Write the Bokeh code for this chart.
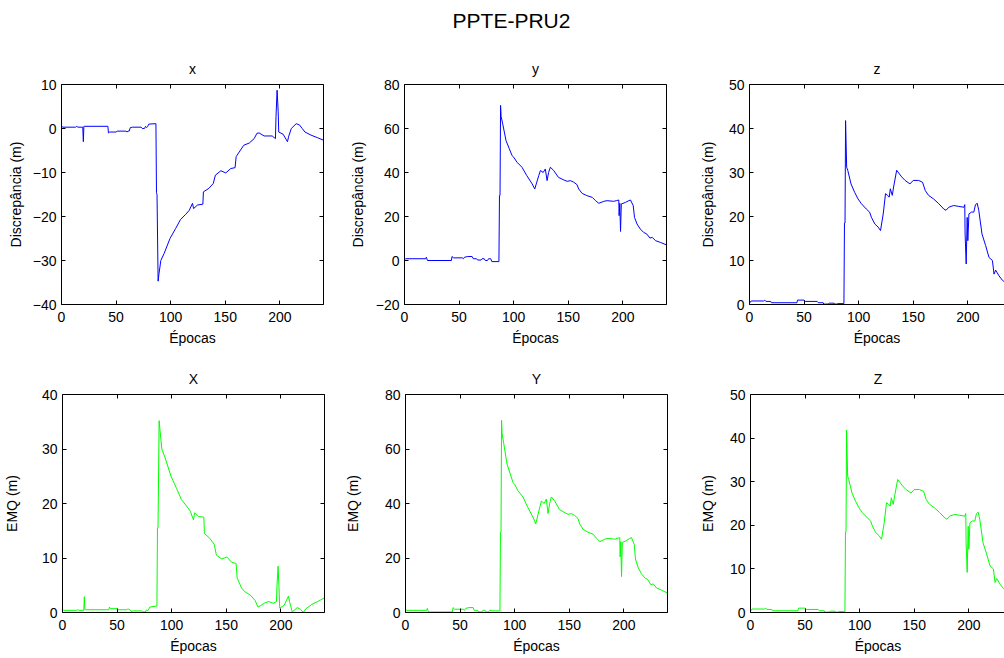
from bokeh.plotting import figure
from bokeh.layouts import column, row
from bokeh.models import LinearAxis, FixedTicker, Range1d, CustomJSTickFormatter
from bokeh.embed import file_html
from bokeh.resources import INLINE

# ---------------- data ----------------
main_title = "PPTE-PRU2"
x_ticks = [0, 50, 100, 150, 200]

ep_x = [0, 1, 13, 14, 15, 19.5, 20, 20.5, 21, 42.5, 43, 44, 50, 51, 59, 60, 61, 62, 63, 65,
        73, 74, 76, 77, 78, 79, 80, 86.5, 87, 87.5, 88.5, 89.3, 91, 94, 99.4, 104.6, 109, 113.8,
        117, 120, 121, 124.5, 129.5, 130, 135, 139, 141, 146, 150.5, 155, 159, 160, 164, 167,
        172, 176.5, 179, 181, 185.6, 189, 193, 196, 196.5, 197.5, 198.5, 199, 203, 207, 208,
        210.5, 215, 218, 220.5, 223, 228.5, 234.6, 240]
val_x = [0.6, 0.3, 0.3, 0.5, 0.3, 0.3, -3.0, 0.5, 0.5, 0.5, -1.0, -0.8, -0.8, -0.6, -0.6, -0.8,
         -0.6, -0.6, 0.2, 0.3, 0.3, 0.0, 0.0, 0.5, 0.2, 0.5, 1.0, 1.1, -14.6, -15, -34.7, -33,
         -30, -28.4, -25, -22.7, -20.7, -19.5, -18.6, -17, -18.2, -17.4, -17.2, -14.4, -13.6,
         -12.5, -10.6, -9.6, -10.1, -9.1, -8.9, -6.4, -4.9, -3.8, -3.3, -2.3, -1.1, -1.0, -1.7,
         -1.7, -1.7, -2.3, 2.7, 8.7, 3.8, -0.8, -1.3, -3.0, -1.9, 0.0, 1.1, 0.8, 0.0, -0.8,
         -1.5, -2.1, -2.65]
emq_x = [0.6, 0.4, 0.4, 0.5, 0.4, 0.4, 2.9, 0.5, 0.5, 0.5, 1.0, 0.7, 0.7, 0.5, 0.5, 0.7,
         0.5, 0.5, 0.2, 0.3, 0.3, 0.1, 0.1, 0.5, 0.3, 0.6, 1.0, 1.2, 15.5, 15.5, 35.2, 33.5,
         30, 28.4, 25, 22.7, 20.7, 19.5, 18.6, 17, 18.3, 17.6, 17.5, 14.5, 13.6, 12.5, 10.5,
         9.8, 10.2, 9.2, 9.0, 6.3, 4.5, 3.8, 3.2, 2.2, 1.0, 1.2, 1.8, 2.0, 1.7, 2.0, 5.0, 8.5,
         3.5, 0.8, 1.3, 3.0, 2.0, 0.1, 0.9, 0.6, 0.0, 0.7, 1.5, 2.1, 2.7]

ep_y = [0, 1, 19.5, 20, 20.5, 21, 43, 43.5, 45, 53, 54, 55, 58, 62, 63, 66, 67, 70, 71, 73,
        74, 76, 77, 79, 80, 86.5, 87, 87.5, 88, 88.5, 90, 93, 96, 98.5, 100, 103, 107.6, 112,
        117, 119.3, 123, 124.5, 127, 129, 130.6, 132, 133.6, 136.7, 141, 146, 149, 152, 155,
        158, 159.6, 162.7, 167, 172, 175, 178, 182.6, 185.6, 191.7, 194, 196.3, 196.6, 197.2,
        197.9, 198.6, 202.4, 205.5, 207, 209.5, 210.7, 213, 216, 219, 222, 224.8, 227, 230,
        234.6, 240]
val_y = [0.3, 0.8, 0.8, 1.5, 0.8, 0.0, 0.0, 1.8, 1.2, 1.2, 0.8, 1.5, 1.8, 1.8, 0.8, 0.8, 0.2,
         0.2, 0.8, 0.8, 0.0, 0.0, 0.8, 0.8, -0.5, -0.5, 29.5, 29.5, 70.5, 65.5, 62, 54.5, 50.8,
         47.7, 47, 44.7, 42.4, 38.6, 34.8, 32.5, 38.6, 40.9, 40, 41.6, 36.3, 40, 42.4, 40.9,
         37.8, 36.6, 36, 36.3, 35.6, 34.5, 32.5, 30.5, 29.5, 28.7, 27.2, 26, 26.9, 27.2, 26.9,
         27.2, 27.5, 20.4, 26.0, 13.2, 25.7, 26.4, 27.2, 27.5, 25, 19.6, 16.6, 14.3, 12.8, 12,
         10.2, 10.5, 9, 8.2, 7.1]
emq_y = [0.5, 0.8, 0.8, 1.5, 0.8, 0.2, 0.2, 1.8, 1.2, 1.2, 0.8, 1.5, 1.8, 1.8, 0.8, 0.8, 0.2,
         0.2, 0.8, 0.8, 0.2, 0.2, 0.8, 0.8, 0.6, 0.6, 29.5, 29.5, 70.5, 65.5, 62, 54.5, 50.8,
         47.7, 47, 44.7, 42.4, 38.6, 34.8, 32.5, 38.6, 40.9, 40, 41.6, 36.3, 40, 42.4, 40.9,
         37.8, 36.6, 36, 36.3, 35.6, 34.5, 32.5, 30.5, 29.5, 28.7, 27.2, 26, 26.9, 27.2, 26.9,
         27.2, 27.5, 20.4, 26.0, 13.2, 25.7, 26.4, 27.2, 27.5, 25, 19.6, 16.6, 14.3, 12.8, 12,
         10.2, 10.5, 9, 8.2, 7.1]

ep_z = [0, 1.5, 13, 14, 15, 19.5, 20, 43.5, 44, 50, 51, 62, 63, 67.5, 68, 72, 73, 77.5, 78, 80,
        81, 86.5, 87, 87.5, 88, 88.5, 89, 90, 93, 96.3, 99.4, 102.5, 107, 110, 111.7, 114.8,
        117.8, 120, 122.5, 124.6, 126.5, 128, 129, 130.8, 132, 134.8, 139.4, 142.5, 147, 150,
        154.8, 158.5, 161, 164, 168.6, 173, 178, 180, 182.5, 187, 191.7, 196.3, 197.2, 197.5,
        198.5, 199.4, 200, 201, 203.4, 205.5, 207, 208.6, 210, 213, 216.3, 219.4, 222.5, 224,
        225.5, 228.6, 231.7, 235.4, 240]
val_z = [0.3, 0.8, 0.8, 1.0, 0.7, 0.7, 0.4, 0.4, 1.0, 1.0, 0.7, 0.7, 0.4, 0.4, 0.1, 0.1, 0.3,
         0.3, 0.1, 0.1, 0.2, 0.2, 18.5, 18.5, 41.8, 36.5, 31.2, 30.5, 27.4, 25.5, 24, 22.9, 21.7,
         21, 19.8, 18.3, 17.6, 16.8, 20.6, 25.2, 24.8, 24.4, 26.3, 24.8, 26.7, 30.5, 29, 28.2,
         27.4, 28.2, 28.2, 27.8, 25.9, 24.8, 24, 23, 21.7, 21.4, 22.1, 22.5, 22.3, 22.1, 22.7,
         16, 9.2, 19.8, 14.5, 20.6, 21, 21, 22.7, 23, 21.4, 16, 13.4, 10.7, 10, 6.9, 7.8, 6.5,
         5.5, 4.8, 4.0]
emq_z = [0.3, 0.8, 0.8, 1.0, 0.7, 0.7, 0.4, 0.4, 1.0, 1.0, 0.7, 0.7, 0.4, 0.4, 0.1, 0.1, 0.3,
         0.3, 0.1, 0.1, 0.2, 0.2, 18.5, 18.5, 41.8, 36.5, 31.2, 30.5, 27.4, 25.5, 24, 22.9, 21.7,
         21, 19.8, 18.3, 17.6, 16.8, 20.6, 25.2, 24.8, 24.4, 26.3, 24.8, 26.7, 30.5, 29, 28.2,
         27.4, 28.2, 28.2, 27.8, 25.9, 24.8, 24, 23, 21.7, 21.4, 22.1, 22.5, 22.3, 22.1, 22.7,
         16, 9.2, 19.8, 14.5, 20.6, 21, 21, 22.7, 23, 21.4, 16, 13.4, 10.7, 10, 6.9, 7.8, 6.5,
         5.5, 4.8, 4.0]

top_titles = ["x", "y", "z"]
bottom_titles = ["X", "Y", "Z"]
top_ylabel = "Discrepância (m)"
bottom_ylabel = "EMQ (m)"
xlabel = "Épocas"
top_yranges = [(-40, 10), (-20, 80), (0, 50)]
bottom_yranges = [(0, 40), (0, 80), (0, 50)]
top_yticks = [[-40, -30, -20, -10, 0, 10], [-20, 0, 20, 40, 60, 80], [0, 10, 20, 30, 40, 50]]
bottom_yticks = [[0, 10, 20, 30, 40], [0, 20, 40, 60, 80], [0, 10, 20, 30, 40, 50]]

# ---------------- styling ----------------
FONT = "Liberation Sans"
BLUE = "#0000ff"
GREEN = "#00ff00"
col_border_left = [61, 64, 69]
col_border_right = [17, 14, 0]
col_frame_w = [262, 262, 255]
col_x_end = [240, 240, 255 * 240 / 262]
top_label_standoff = [6, 7, 10]
bottom_label_standoff = [19, 21, 11]


def style_axis(ax, show_labels=True):
    ax.axis_line_color = "black"
    ax.major_tick_line_color = "black"
    ax.major_tick_in = 4
    ax.major_tick_out = 0
    ax.minor_tick_line_color = None
    ax.major_label_text_font = FONT
    ax.major_label_text_font_size = "14px"
    ax.major_label_text_color = "black"
    ax.axis_label_text_font = FONT
    ax.axis_label_text_font_size = "14px"
    ax.axis_label_text_font_style = "normal"
    ax.axis_label_text_color = "black"
    if not show_labels:
        ax.formatter = CustomJSTickFormatter(code="return ''")
        ax.major_label_text_font_size = "1px"
        ax.major_label_standoff = 0


def panel(col, title, ep, vals, color, ylabel, yr, yticks, b_top, f_h, ylab_standoff):
    p = figure(frame_width=col_frame_w[col], frame_height=f_h,
               min_border_left=col_border_left[col], min_border_right=col_border_right[col],
               min_border_top=b_top, min_border_bottom=46,
               x_range=Range1d(0, col_x_end[col]), y_range=Range1d(*yr),
               output_backend="svg", toolbar_location=None)
    p.outline_line_color = None
    p.grid.visible = False
    p.title.text = title
    p.title.align = "center"
    p.title.text_font = FONT
    p.title.text_font_size = "14px"
    p.title.text_font_style = "normal"
    p.title.text_color = "black"
    p.title.standoff = 15

    p.xaxis.ticker = FixedTicker(ticks=x_ticks)
    p.yaxis.ticker = FixedTicker(ticks=yticks)
    p.xaxis.axis_label = xlabel
    p.yaxis.axis_label = ylabel
    for ax in p.xaxis:
        style_axis(ax)
        ax.major_label_standoff = 7
        ax.axis_label_standoff = 5
    for ax in p.yaxis:
        style_axis(ax)
        ax.major_label_standoff = 5
        ax.axis_label_standoff = ylab_standoff

    top = LinearAxis(ticker=FixedTicker(ticks=x_ticks))
    style_axis(top, show_labels=False)
    p.add_layout(top, "above")
    if col < 2:
        right = LinearAxis(ticker=FixedTicker(ticks=yticks))
        style_axis(right, show_labels=False)
        p.add_layout(right, "right")

    p.line(ep, vals, line_color=color, line_width=1)
    return p


# header with the main title
header = figure(width=1004, height=50, min_border_left=18, min_border_right=0,
                min_border_top=0, min_border_bottom=0,
                x_axis_location=None, y_axis_location=None,
                output_backend="svg", toolbar_location=None)
header.outline_line_color = None
header.grid.visible = False
header.title.text = main_title
header.title.align = "center"
header.title.text_font = FONT
header.title.text_font_size = "21px"
header.title.text_font_style = "normal"
header.title.text_color = "black"
header.title.standoff = 12

top_series = [(ep_x, val_x), (ep_y, val_y), (ep_z, val_z)]
bottom_series = [(ep_x, emq_x), (ep_y, emq_y), (ep_z, emq_z)]

row1 = row([panel(i, top_titles[i], top_series[i][0], top_series[i][1], BLUE, top_ylabel,
                  top_yranges[i], top_yticks[i], 34, 220, top_label_standoff[i])
            for i in range(3)], spacing=0)
row2 = row([panel(i, bottom_titles[i], bottom_series[i][0], bottom_series[i][1], GREEN,
                  bottom_ylabel, bottom_yranges[i], bottom_yticks[i], 44, 218,
                  bottom_label_standoff[i]) for i in range(3)], spacing=0)

layout = column([header, row1, row2], spacing=0)
open("out.html", "w").write(file_html(layout, INLINE))
